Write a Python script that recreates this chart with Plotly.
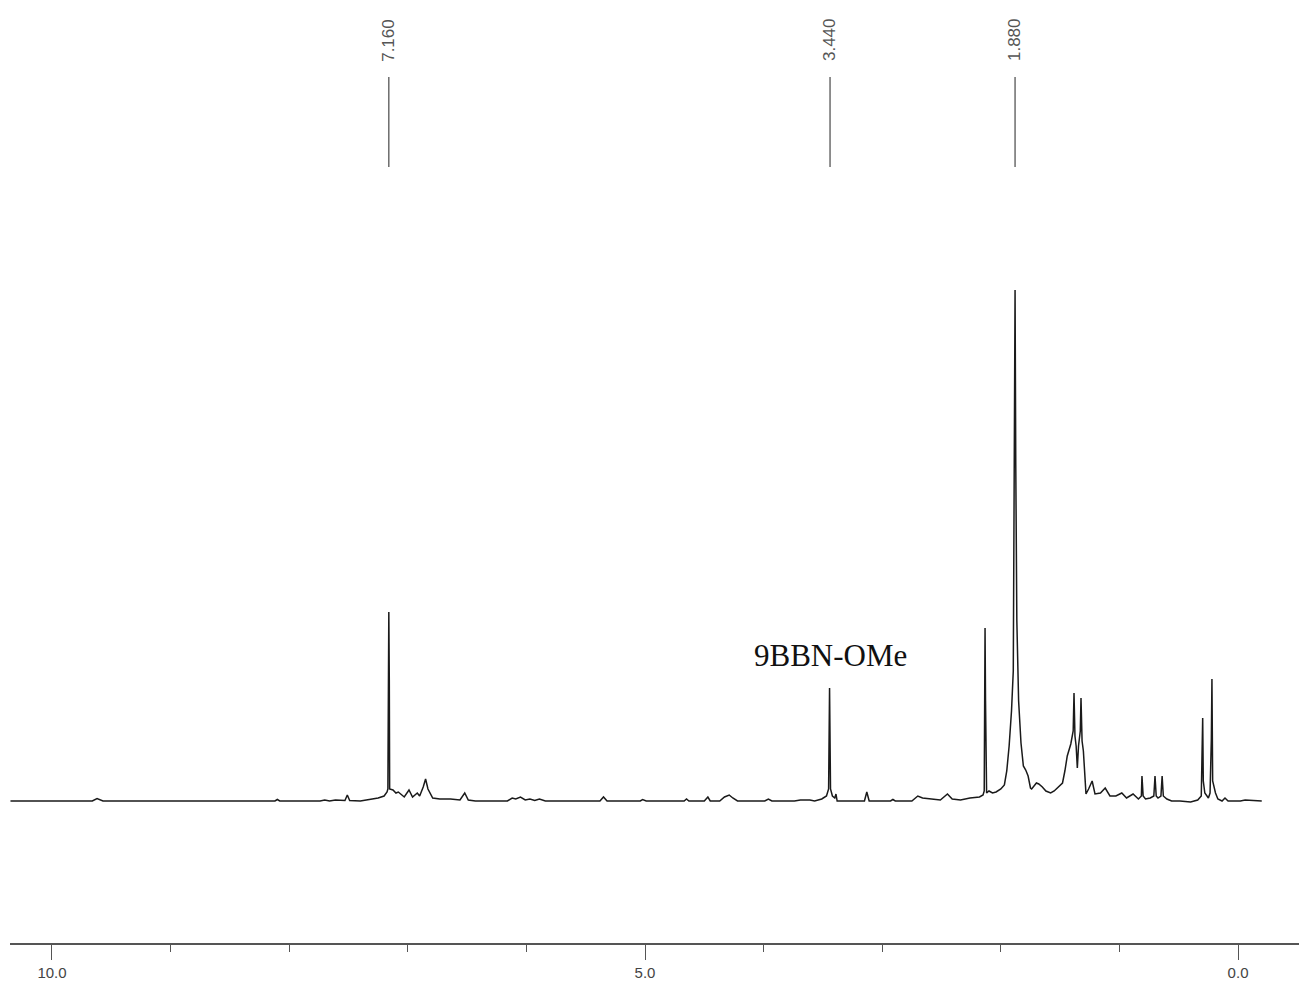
import plotly.graph_objects as go

# chemical shift (ppm) and intensity (a.u.)
ppm = [10.35, 9.66, 9.62, 9.57, 8.12, 8.10, 8.08, 7.74, 7.70, 7.66, 7.61, 7.57, 7.53, 7.51, 7.49, 7.40,
       7.34, 7.25, 7.20, 7.175, 7.168, 7.165, 7.160, 7.156, 7.153, 7.125, 7.10, 7.08, 7.03, 6.99, 6.96,
       6.92, 6.90, 6.87, 6.85, 6.83, 6.81, 6.79, 6.73, 6.64, 6.56, 6.52, 6.49, 6.43,
       6.16, 6.12, 6.09, 6.05, 6.01, 5.97, 5.93, 5.89, 5.84,
       5.38, 5.35, 5.32, 5.04, 5.02, 4.99, 4.67, 4.65, 4.63, 4.50, 4.47, 4.45, 4.37, 4.33, 4.29, 4.26,
       4.22, 3.99, 3.96, 3.93, 3.74, 3.69, 3.61, 3.57, 3.51, 3.47, 3.452, 3.444, 3.436, 3.42, 3.40,
       3.39, 3.38, 3.15, 3.13, 3.11, 2.93, 2.91, 2.89, 2.75, 2.70, 2.66, 2.60, 2.51, 2.45, 2.41, 2.34,
       2.26, 2.18, 2.15, 2.14, 2.136, 2.133, 2.129, 2.125, 2.12, 2.10, 2.07, 2.04, 2.00, 1.97, 1.95,
       1.93, 1.91, 1.895, 1.886, 1.880, 1.874, 1.865, 1.85, 1.83, 1.81, 1.79, 1.77, 1.75, 1.74, 1.70,
       1.68, 1.65, 1.62, 1.58, 1.55, 1.51, 1.48, 1.46, 1.44, 1.41, 1.39, 1.383, 1.375, 1.365, 1.355,
       1.345, 1.330, 1.324, 1.315, 1.304, 1.282, 1.26, 1.23, 1.206, 1.16, 1.12, 1.08, 1.03, 0.98,
       0.94, 0.885, 0.84, 0.815, 0.81, 0.80, 0.78, 0.74, 0.71, 0.70, 0.69, 0.675, 0.65, 0.64, 0.63,
       0.60, 0.56, 0.49, 0.40, 0.34, 0.31, 0.302, 0.298, 0.293, 0.28, 0.25, 0.236, 0.225, 0.220,
       0.214, 0.19, 0.17, 0.135, 0.11, 0.084, -0.02, -0.06, -0.20]
intensity = [0, 0, 2.5, 0, 0, 1.5, 0, 0, 1, 0, 1, 0.5, 0.5, 6, 0.5, 0,
             1, 3, 5, 9, 12, 121, 189, 121, 12, 11, 8, 9, 4, 11, 4,
             8, 5, 14, 22, 12, 7, 3, 2, 2, 1, 8, 1, 0,
             0, 3, 2, 4, 1, 2, 0.5, 2, 0,
             0, 4, 0, 0, 1.5, 0, 0, 2, 0, 0, 4, 0, 0, 4, 6, 3,
             0, 0, 2, 0, 0, 1, 1, 0, 2, 5, 12, 113, 12, 5, 3,
             7, 0, 0, 9, 0, 0, 1.5, 0, 0, 5, 3, 2, 1, 7, 2, 1,
             3, 4, 6, 10, 100, 173, 100, 25, 8, 10, 8, 9, 12, 16, 30,
             55, 90, 130, 336, 511, 336, 180, 100, 58, 35, 31, 25, 13, 12, 18,
             17, 14, 10, 8, 10, 15, 18, 30, 45, 57, 70, 108, 65, 55, 33,
             55, 70, 103, 60, 50, 7, 12, 20, 7, 8, 13, 5, 5, 8,
             3, 7, 2, 5, 25, 5, 2, 3, 5, 25, 5, 3, 5, 25, 5,
             2, 0, 0, -1, 1, 5, 42, 83, 20, 8, 3, 8, 62, 122,
             20, 8, 2, 0, 3, 0, 0, 1, 0]

# picked peaks
peak_ppm = [7.160, 3.440, 1.880]
peak_labels = ["7.160", "3.440", "1.880"]

# axis ticks
tick_vals = [10.0, 5.0, 0.0]
tick_text = ["10.0", "5.0", "0.0"]

annotation_text = "9BBN-OMe"
annotation_ppm = 3.44

fig = go.Figure()
fig.add_trace(go.Scatter(x=ppm, y=intensity, mode="lines",
                         line=dict(color="#1a1a1a", width=1.5),
                         hoverinfo="skip", showlegend=False))

for p, lab in zip(peak_ppm, peak_labels):
    fig.add_annotation(x=p, y=0.9576, xref="x", yref="paper", text=lab,
                       textangle=-90, showarrow=False, yanchor="middle", xanchor="center",
                       font=dict(family="Liberation Sans, Arial", size=17, color="#555555"))
    fig.add_shape(type="line", xref="x", yref="paper", x0=p, x1=p, y0=0.9183, y1=0.8229,
                  line=dict(color="#555555", width=1.3))

fig.add_annotation(x=annotation_ppm, y=0.3054, xref="x", yref="paper", text=annotation_text,
                   showarrow=False, yanchor="middle", xanchor="center",
                   font=dict(family="Liberation Serif, Times New Roman", size=31, color="#111111"))

fig.update_layout(
    width=1299, height=983,
    margin=dict(l=10, r=0, t=0, b=40),
    paper_bgcolor="white", plot_bgcolor="white",
    xaxis=dict(range=[10.354, -0.514], showgrid=False, zeroline=False,
               showline=True, linecolor="#555555", linewidth=1.5,
               ticks="outside", ticklen=15, tickwidth=1.3, tickcolor="#555555",
               tickvals=tick_vals, ticktext=tick_text,
               tickfont=dict(family="Liberation Sans, Arial", size=15, color="#444444"),
               minor=dict(dtick=1, tick0=0, ticks="outside", ticklen=7, tickwidth=1.2,
                          tickcolor="#555555", showgrid=False)),
    yaxis=dict(range=[-142, 801], visible=False, showgrid=False, zeroline=False),
)

fig.write_html("out.html")
